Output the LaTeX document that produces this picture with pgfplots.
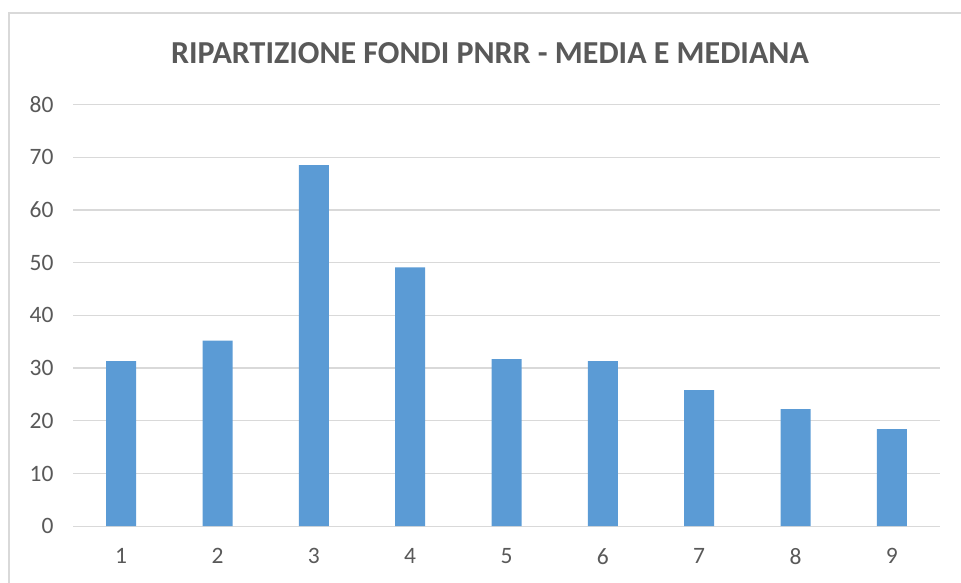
\documentclass[border=0pt]{standalone}
\usepackage{fontspec}
\setmainfont{Carlito}
\usepackage{pgfplots}
\pgfplotsset{compat=1.18}
\definecolor{barblue}{HTML}{5B9BD5}
\definecolor{gridgray}{HTML}{D9D9D9}
\definecolor{txtgray}{HTML}{595959}
\begin{document}
\begin{tikzpicture}[x=1pt,y=1pt]
\path[use as bounding box] (0,0) rectangle (961,583);
\begin{scope}
\clip (0,0) rectangle (961,583);
\draw[gridgray, line width=1.2pt] (9,-5) -- (9,570) -- (970,570);
\end{scope}
\node[txtgray, font=\fontsize{32}{38}\selectfont\bfseries] at (490,530) {RIPARTIZIONE FONDI PNRR - MEDIA E MEDIANA};
\begin{axis}[
  at={(73pt,56.8pt)}, anchor=south west,
  scale only axis, width=867pt, height=421.6pt,
  xmin=0.5, xmax=9.5, ymin=0, ymax=80,
  xtick={1,...,9}, ytick={0,10,...,80},
  ymajorgrids, grid style={gridgray, line width=1.2pt},
  axis line style={draw=none},
  major tick length=0pt,
  tick label style={txtgray, font=\fontsize{23.5}{28}\selectfont},
  /pgf/number format/assume math mode=true,
  xticklabel style={yshift=-19pt},
  yticklabel style={xshift=-16pt},
]
\addplot[ybar, fill=barblue, draw=none, bar width=30pt] coordinates {
(1,31.3) (2,35.2) (3,68.5) (4,49.1) (5,31.7) (6,31.3) (7,25.8) (8,22.2) (9,18.4)
};
\end{axis}
\end{tikzpicture}
\end{document}
